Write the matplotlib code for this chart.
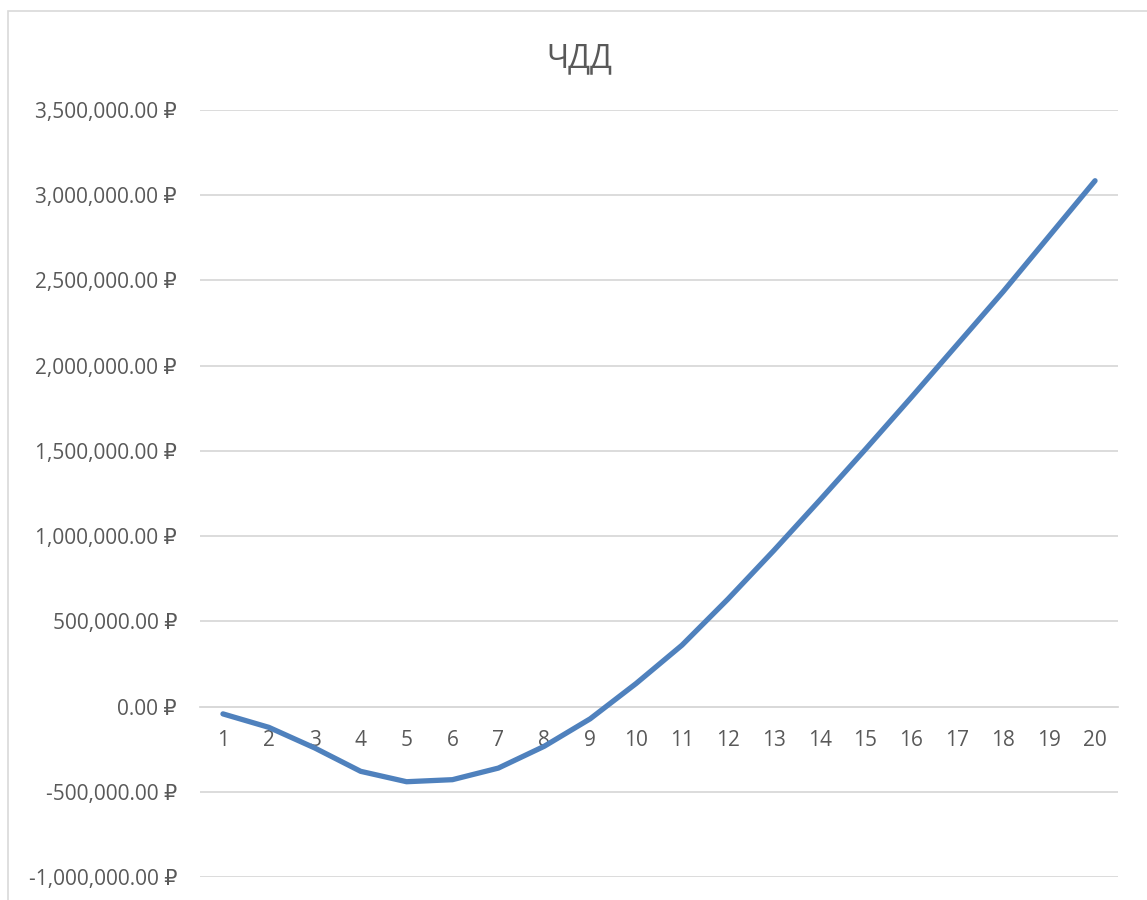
import matplotlib
matplotlib.use("Agg")
import matplotlib.pyplot as plt
from matplotlib.patches import Rectangle
from matplotlib.ticker import FuncFormatter, MultipleLocator

plt.rcParams['font.family'] = ['Open Sans', 'DejaVu Sans']

title = "ЧДД"
years = list(range(1, 21))
npv = [-43000, -122000, -243000, -380000, -441000, -429000, -361000, -233000, -72000,
       135000, 360000, 630000, 915000, 1210000, 1510000, 1815000, 2125000, 2435000,
       2760000, 3085000]

W, H = 1147, 900
fig = plt.figure(figsize=(W / 100, H / 100), dpi=100)
fig.patches.append(Rectangle((8 / W, -0.1), 1.2, 1 - 11 / H + 0.1, transform=fig.transFigure,
                             fill=False, edgecolor='#D9D9D9', linewidth=1.2))

ax = fig.add_axes([200 / W, 1 - 877 / H, (1118 - 200) / W, (877 - 110) / H])
ax.plot(years, npv, color='#4F81BD', linewidth=3.8, solid_capstyle='round', solid_joinstyle='round', zorder=3)

ax.set_xlim(0.5, 20.5)
ax.set_ylim(-1000000, 3500000)
ax.yaxis.set_major_locator(MultipleLocator(500000))
ax.yaxis.set_major_formatter(FuncFormatter(lambda v, p: f"{v:,.2f} ₽"))
ax.set_xticks(years)
ax.set_xticklabels([str(y) for y in years])

ax.grid(axis='y', color='#D9D9D9', linewidth=1.3)
ax.set_axisbelow(True)
for s in ['top', 'right', 'left']:
    ax.spines[s].set_visible(False)
ax.spines['bottom'].set_position(('data', 0))
ax.spines['bottom'].set_color('#D9D9D9')
ax.spines['bottom'].set_linewidth(1.3)

ax.tick_params(axis='y', length=0, pad=16.5, labelsize=15, labelcolor='#595959')
ax.tick_params(axis='x', length=0, pad=17, labelsize=15, labelcolor='#595959')

fig.text(579 / W, 1 - 59 / H, title, ha='center', va='center', fontsize=23, color='#595959')

fig.savefig("out.png", dpi=100)
